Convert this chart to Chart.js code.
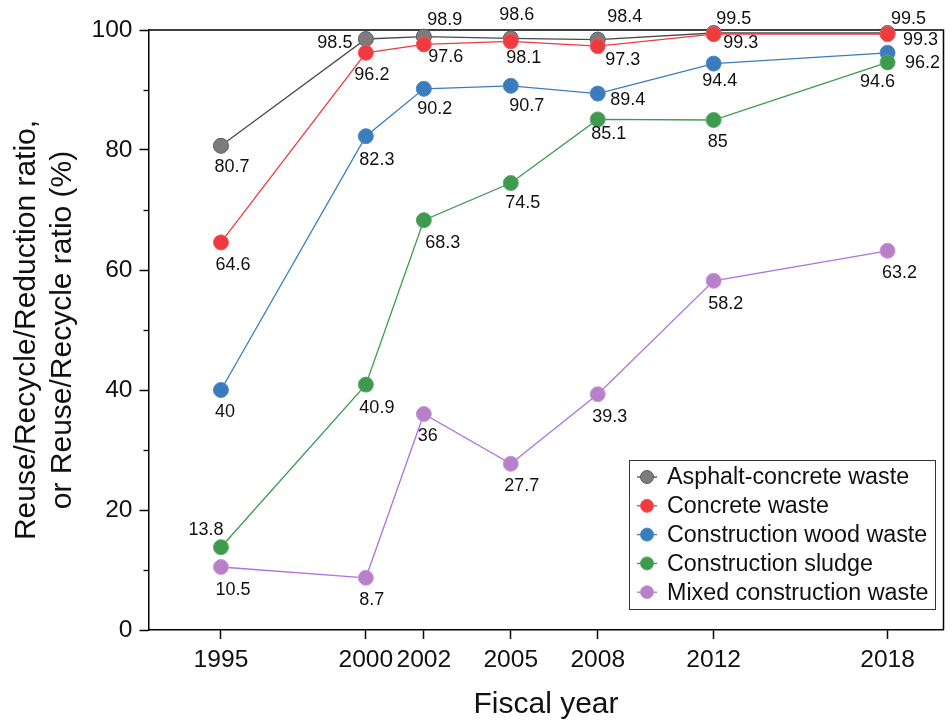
<!DOCTYPE html>
<html><head><meta charset="utf-8">
<script src="https://cdn.jsdelivr.net/npm/chart.js@4.4.1/dist/chart.umd.min.js"></script>
<style>html,body{margin:0;padding:0;background:#fff;}</style>
</head><body>
<canvas id="c" width="952" height="720"></canvas>
<script>
// ---- data ----
const years = [1995, 2000, 2002, 2005, 2008, 2012, 2018];
const seriesNames = ["Asphalt-concrete waste", "Concrete waste", "Construction wood waste", "Construction sludge", "Mixed construction waste"];
const asphalt  = [80.7, 98.5, 98.9, 98.6, 98.4, 99.5, 99.5];
const concrete = [64.6, 96.2, 97.6, 98.1, 97.3, 99.3, 99.3];
const wood     = [40, 82.3, 90.2, 90.7, 89.4, 94.4, 96.2];
const sludge   = [13.8, 40.9, 68.3, 74.5, 85.1, 85, 94.6];
const mixed    = [10.5, 8.7, 36, 27.7, 39.3, 58.2, 63.2];
const yMajorTicks = [0, 20, 40, 60, 80, 100];
const yMinorTicks = [10, 30, 50, 70, 90];
const xTitle = "Fiscal year";
const yTitle = ["Reuse/Recycle/Reduction ratio,", "or Reuse/Recycle ratio (%)"];

// ---- styles ----
const fillColors = ["#7c7c7c", "#ef3a3f", "#3a7cbd", "#3e9a4f", "#b880c9"];
const edgeColors = ["#5e5e5e", "#f25a5e", "#4f8bc6", "#5aa968", "#c59ad6"];
const lineColors = ["#4a4a4a", "#ef3a3f", "#3a7cbd", "#3e9a4f", "#ad72e0"];
// label offsets (dx, dy) in px relative to the marker
const labelOffsets = [
  [[11,21],[-31,4],[21,-17],[6,-23],[27,-23],[20,-14],[21,-14]],
  [[12,23],[6,22],[22,13],[13,17],[25,14],[27,9],[33,6]],
  [[4,22],[11,24],[11,20],[16,20],[30,6],[6,17],[35,10]],
  [[-15,-17],[11,23],[19,23],[12,20],[11,15],[4,22],[-10,20]],
  [[12,23],[6,22],[4,22],[11,22],[12,23],[12,23],[12,22]]
];
const FONT = "'Liberation Sans', Arial, Helvetica, sans-serif";
const allSeries = [asphalt, concrete, wood, sludge, mixed];

const datasets = allSeries.map((vals, i) => ({
  label: seriesNames[i],
  data: vals.map((v, j) => ({x: years[j], y: v})),
  borderColor: lineColors[i],
  backgroundColor: fillColors[i],
  pointBackgroundColor: fillColors[i],
  pointBorderColor: edgeColors[i],
  pointBorderWidth: 1,
  pointRadius: 7.5,
  pointHoverRadius: 7.5,
  borderWidth: 1.3,
  tension: 0,
  clip: false,
  order: allSeries.length - 1 - i
}));

const framePlugin = {
  id: 'frame',
  beforeDatasetsDraw(chart) {
    const {ctx, chartArea: a} = chart;
    ctx.save();
    ctx.strokeStyle = '#000';
    ctx.lineWidth = 1.5;
    ctx.beginPath();
    ctx.moveTo(a.left, a.top); ctx.lineTo(a.right, a.top); ctx.lineTo(a.right, a.bottom);
    ctx.stroke();
    ctx.restore();
  }
};

const minorTickPlugin = {
  id: 'minorTicks',
  afterDraw(chart) {
    const {ctx} = chart;
    const ys = chart.scales.y;
    ctx.save();
    ctx.strokeStyle = '#000';
    ctx.lineWidth = 1.3;
    yMinorTicks.forEach(v => {
      const py = Math.round(ys.getPixelForValue(v)) + 0.5;
      ctx.beginPath();
      ctx.moveTo(ys.right - 5, py); ctx.lineTo(ys.right, py);
      ctx.stroke();
    });
    ctx.restore();
  }
};

const labelPlugin = {
  id: 'pointLabels',
  afterDatasetsDraw(chart) {
    const {ctx} = chart;
    ctx.save();
    ctx.font = "18px " + FONT;
    ctx.fillStyle = '#111';
    ctx.textAlign = 'center';
    ctx.textBaseline = 'middle';
    allSeries.forEach((vals, i) => {
      const meta = chart.getDatasetMeta(i);
      meta.data.forEach((pt, j) => {
        const off = labelOffsets[i][j];
        ctx.fillText(String(vals[j]), pt.x + off[0], pt.y + off[1]);
      });
    });
    ctx.restore();
  }
};

const legendPlugin = {
  id: 'boxLegend',
  afterDraw(chart) {
    const {ctx} = chart;
    const bx = 629.5, by = 460.5, bw = 306, bh = 149;
    ctx.save();
    ctx.fillStyle = '#fff';
    ctx.fillRect(bx, by, bw, bh);
    ctx.strokeStyle = '#333';
    ctx.lineWidth = 1;
    ctx.strokeRect(bx, by, bw, bh);
    ctx.font = "23.3px " + FONT;
    ctx.textBaseline = 'middle';
    ctx.textAlign = 'left';
    seriesNames.forEach((name, i) => {
      const cy = by + 16.5 + i * 28.8;
      const cx = 647;
      ctx.strokeStyle = lineColors[i];
      ctx.lineWidth = 1.3;
      ctx.beginPath(); ctx.moveTo(cx - 10, cy); ctx.lineTo(cx + 10, cy); ctx.stroke();
      ctx.beginPath(); ctx.arc(cx, cy, 6.5, 0, Math.PI * 2);
      ctx.fillStyle = fillColors[i]; ctx.fill();
      ctx.strokeStyle = edgeColors[i]; ctx.lineWidth = 1; ctx.stroke();
      ctx.fillStyle = '#111';
      ctx.fillText(name, 667, cy + 1);
    });
    ctx.restore();
  }
};

new Chart(document.getElementById('c'), {
  type: 'line',
  data: {datasets},
  plugins: [framePlugin, minorTickPlugin, labelPlugin, legendPlugin],
  options: {
    responsive: false,
    animation: false,
    events: [],
    layout: {padding: {left: 9, top: 30, right: 4, bottom: 0}},
    plugins: {legend: {display: false}, tooltip: {enabled: false}},
    scales: {
      x: {
        type: 'linear',
        min: 1992.5,
        max: 2019.93,
        afterBuildTicks: s => { s.ticks = years.map(v => ({value: v})); },
        afterFit: s => { s.height = 90; },
        ticks: {
          autoSkip: false, maxRotation: 0, padding: 6,
          color: '#111', font: {family: FONT, size: 24.6},
          callback: v => String(v)
        },
        grid: {drawOnChartArea: false, drawTicks: true, tickLength: 9, tickWidth: 1.5, tickColor: '#000'},
        border: {display: true, color: '#000', width: 1.5},
        title: {display: true, text: xTitle, color: '#111', font: {family: FONT, size: 30, lineHeight: 1.0}, padding: {top: 0, bottom: 0}}
      },
      y: {
        min: 0, max: 100,
        afterBuildTicks: s => { s.ticks = yMajorTicks.map(v => ({value: v})); },
        afterFit: s => { s.width = 139.5; },
        ticks: {
          padding: 7, color: '#111', font: {family: FONT, size: 24.6},
          callback: v => String(v)
        },
        grid: {drawOnChartArea: false, drawTicks: true, tickLength: 9, tickWidth: 1.5, tickColor: '#000'},
        border: {display: true, color: '#000', width: 1.5},
        title: {display: true, text: yTitle, color: '#111', font: {family: FONT, size: 30, lineHeight: 1.2}, padding: {top: 0, bottom: 0}}
      }
    }
  }
});
</script>
</body></html>
